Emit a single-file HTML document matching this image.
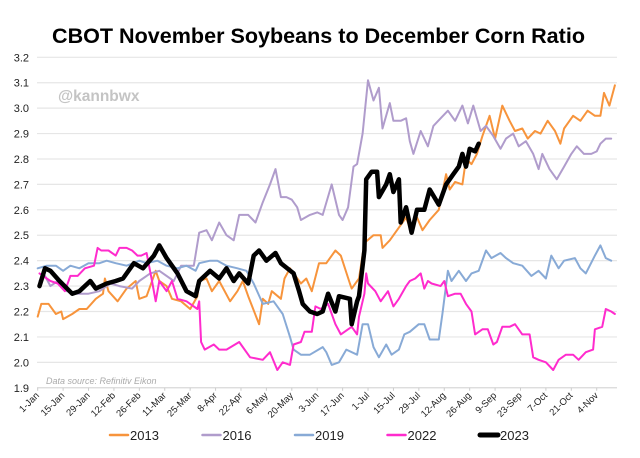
<!DOCTYPE html>
<html><head><meta charset="utf-8"><style>
html,body{margin:0;padding:0;background:#fff;}
svg{display:block;font-family:"Liberation Sans",Arial,sans-serif;}
</style></head><body>
<svg id="chart" width="640" height="458" viewBox="0 0 640 458">
<text x="52" y="43" font-size="21" font-weight="bold" textLength="533" lengthAdjust="spacingAndGlyphs">CBOT November Soybeans to December Corn Ratio</text>
<g id="grid"></g>
<text x="58" y="101" font-size="15.5" font-weight="bold" fill="#c4c4c4">@kannbwx</text>
<text x="46" y="384" font-size="9" font-style="italic" fill="#aaa">Data source: Refinitiv Eikon</text>
<g id="series"></g>
<g id="legend"></g>
</svg>
<script>
const yTicks = [1.9,2.0,2.1,2.2,2.3,2.4,2.5,2.6,2.7,2.8,2.9,3.0,3.1,3.2];
const xTickLabels = ["1-Jan","15-Jan","29-Jan","12-Feb","26-Feb","11-Mar","25-Mar","8-Apr","22-Apr","6-May","20-May","3-Jun","17-Jun","1-Jul","15-Jul","29-Jul","12-Aug","26-Aug","9-Sep","23-Sep","7-Oct","21-Oct","4-Nov"];
const seriesNames = ["2013","2016","2019","2022","2023"];
const days2013 = [0,2,6,10,13,14,19,23,27,32,36,37,39,44,49,54,56,60,65,67,71,74,79,84,88,89,93,96,100,106,110,113,116,122,124,127,129,134,136,139,145,148,151,155,159,164,167,172,173,177,180,185,189,190,194,199,203,205,209,212,216,221,225,227,230,234,236,239,242,245,249,252,256,260,263,267,270,274,277,281,285,288,290,295,299,303,307,310,312,315,318];
const vals2013 = [2.18,2.23,2.23,2.19,2.20,2.17,2.19,2.21,2.21,2.25,2.27,2.33,2.28,2.24,2.29,2.32,2.25,2.26,2.36,2.32,2.30,2.25,2.24,2.21,2.26,2.32,2.33,2.28,2.32,2.24,2.28,2.32,2.26,2.15,2.25,2.23,2.28,2.25,2.33,2.37,2.31,2.33,2.28,2.39,2.39,2.44,2.42,2.31,2.29,2.33,2.47,2.50,2.50,2.45,2.48,2.53,2.57,2.53,2.57,2.52,2.56,2.60,2.74,2.68,2.71,2.70,2.80,2.78,2.82,2.89,2.97,2.88,3.01,2.95,2.91,2.92,2.88,2.91,2.90,2.95,2.91,2.86,2.92,2.97,2.95,2.99,2.97,2.97,3.06,3.01,3.09];
const days2016 = [1,4,7,11,16,21,28,34,40,45,52,56,62,67,75,79,86,89,93,96,100,104,108,111,116,120,124,128,131,134,137,140,143,145,150,154,157,162,166,168,171,174,176,179,182,185,188,190,194,196,200,203,205,207,211,215,218,222,226,230,234,237,240,244,247,251,255,258,262,265,269,273,276,278,282,286,290,294,297,301,305,308,310,313,316];
const vals2016 = [2.32,2.34,2.30,2.32,2.28,2.27,2.27,2.28,2.31,2.30,2.29,2.32,2.35,2.36,2.32,2.38,2.38,2.51,2.52,2.48,2.55,2.50,2.48,2.58,2.58,2.55,2.63,2.70,2.76,2.65,2.65,2.64,2.61,2.56,2.58,2.59,2.58,2.70,2.58,2.56,2.61,2.77,2.78,2.90,3.11,3.03,3.08,2.92,3.02,2.95,2.95,2.96,2.87,2.82,2.91,2.85,2.93,2.96,2.99,2.95,3.01,2.94,3.01,2.91,2.93,2.89,2.84,2.88,2.90,2.85,2.87,2.82,2.76,2.82,2.76,2.72,2.77,2.82,2.85,2.82,2.82,2.83,2.86,2.88,2.88];
const days2019 = [0,5,10,14,18,23,28,34,38,43,49,56,60,66,71,77,82,87,89,95,99,104,110,115,119,124,130,135,139,141,145,150,157,159,162,166,170,176,179,182,185,188,192,195,199,202,205,210,213,216,221,223,226,228,232,236,239,243,247,250,255,258,262,267,272,276,280,283,287,290,296,299,302,307,310,313,316];
const vals2019 = [2.37,2.38,2.38,2.36,2.38,2.37,2.39,2.39,2.40,2.39,2.38,2.40,2.39,2.40,2.38,2.37,2.38,2.36,2.39,2.40,2.40,2.38,2.37,2.36,2.31,2.23,2.24,2.19,2.10,2.05,2.03,2.03,2.06,2.04,1.99,2.00,2.05,2.03,2.15,2.15,2.06,2.02,2.07,2.03,2.05,2.11,2.12,2.15,2.15,2.09,2.09,2.19,2.36,2.32,2.36,2.32,2.35,2.36,2.44,2.41,2.43,2.41,2.39,2.38,2.34,2.36,2.33,2.42,2.37,2.40,2.41,2.37,2.35,2.42,2.46,2.41,2.40];
const days2022 = [1,7,11,15,18,22,26,31,33,35,39,43,45,49,52,55,57,60,63,65,67,71,74,77,82,88,89,90,92,97,100,104,111,117,124,128,132,135,139,141,145,147,151,153,156,160,164,167,171,173,176,177,180,181,182,186,189,193,196,199,203,205,208,211,213,215,217,222,224,226,230,233,236,239,241,245,248,251,253,256,260,263,267,271,273,276,280,284,287,291,295,298,302,306,307,311,313,316,318];
const vals2022 = [2.35,2.32,2.31,2.28,2.34,2.34,2.37,2.38,2.45,2.44,2.44,2.42,2.45,2.45,2.44,2.42,2.42,2.43,2.32,2.24,2.32,2.28,2.32,2.25,2.24,2.21,2.24,2.08,2.05,2.07,2.05,2.05,2.08,2.02,2.01,2.04,1.97,2.00,1.99,2.07,2.08,2.12,2.12,2.22,2.21,2.23,2.15,2.11,2.13,2.14,2.11,2.18,2.27,2.35,2.31,2.28,2.24,2.28,2.22,2.25,2.30,2.32,2.33,2.35,2.29,2.32,2.31,2.30,2.32,2.26,2.27,2.27,2.23,2.20,2.11,2.13,2.13,2.07,2.08,2.14,2.14,2.15,2.11,2.11,2.02,2.01,2.00,1.97,2.01,2.03,2.03,2.01,2.04,2.05,2.13,2.14,2.21,2.20,2.19];
const days2023 = [1,4,7,12,19,23,29,32,38,43,47,53,58,64,67,71,77,82,87,89,95,100,104,108,111,116,119,122,126,131,134,141,144,146,150,154,157,160,164,166,172,173,176,177,180,181,184,187,188,192,194,196,199,200,203,206,209,213,216,221,225,229,232,234,236,238,241,243];
const vals2023 = [2.30,2.37,2.36,2.32,2.27,2.28,2.32,2.29,2.31,2.32,2.33,2.39,2.37,2.42,2.46,2.41,2.35,2.28,2.26,2.32,2.36,2.33,2.37,2.32,2.35,2.31,2.42,2.44,2.40,2.43,2.39,2.35,2.28,2.23,2.20,2.19,2.20,2.27,2.20,2.26,2.25,2.15,2.24,2.26,2.44,2.72,2.75,2.75,2.65,2.70,2.74,2.67,2.72,2.55,2.61,2.51,2.60,2.60,2.68,2.62,2.70,2.74,2.77,2.82,2.77,2.84,2.83,2.86];

const NS = "http://www.w3.org/2000/svg";
const X0 = 37.7, PX_PER_DAY = 1.815, Y_TOP = 57.3, YMAX = 3.2, PX_PER_UNIT = 254.2;
function xScale(d){ return X0 + d * PX_PER_DAY; }
function yScale(v){ return Y_TOP + (YMAX - v) * PX_PER_UNIT; }
function mk(tag, attrs){ const e = document.createElementNS(NS, tag); for (const k in attrs) e.setAttribute(k, attrs[k]); return e; }

const grid = document.getElementById('grid');
yTicks.forEach(function(t){
  const y = yScale(t);
  const ln = mk('line', {x1: 37, x2: 617, y1: y, y2: y, stroke: t === 1.9 ? '#d8d8d8' : '#e6e6e6', 'stroke-width': 1.2});
  
  
  grid.appendChild(ln);
  const tx = mk('text', {x: 29, y: y + 4, 'text-anchor': 'end', 'font-size': 11, fill: '#222'});
  
  
  tx.textContent = t.toFixed(1);
  grid.appendChild(tx);
});
xTickLabels.forEach(function(lab, i){
  const x = xScale(i * 14);
  const tk = mk('line', {x1: x, x2: x, y1: yScale(1.9), y2: yScale(1.9) + 3, stroke: '#ccc', 'stroke-width': 1});
  
  
  grid.appendChild(tk);
  const tx = mk('text', {x: x + 2, y: 396, 'text-anchor': 'end', 'font-size': 9.5, fill: '#222', transform: 'rotate(-45 ' + (x + 2) + ' 396)'});
  
  
  tx.textContent = lab;
  grid.appendChild(tx);
});

const seriesDays = [days2013, days2016, days2019, days2022, days2023];
const seriesVals = [vals2013, vals2016, vals2019, vals2022, vals2023];
const colors = ['#f7943c', '#b09ccc', '#88aad6', '#ff2bcd', '#000000'];
const widths = [2, 2, 2, 2, 4.5];
const sg = document.getElementById('series');
seriesNames.forEach(function(name, i){
  const d = seriesDays[i].map(function(day, j){ return (j ? 'L' : 'M') + xScale(day).toFixed(1) + ' ' + yScale(seriesVals[i][j]).toFixed(1); }).join(' ');
  const p = mk('path', {d: d, fill: 'none', stroke: colors[i], 'stroke-width': widths[i], 'stroke-linejoin': 'round', 'stroke-linecap': 'round'});
  
  
  sg.appendChild(p);
});

const lg = document.getElementById('legend');
seriesNames.forEach(function(name, i){
  const x = 110 + i * 92.5;
  const sw = mk('line', {x1: x, x2: x + 18, y1: 435, y2: 435, stroke: colors[i], 'stroke-width': i === 4 ? 5 : 2.5, 'stroke-linecap': 'round'});
  
  
  lg.appendChild(sw);
  const tx = mk('text', {x: x + 20, y: 440, 'font-size': 13, fill: '#222'});
  
  
  tx.textContent = name;
  lg.appendChild(tx);
});
</script>
</body></html>
